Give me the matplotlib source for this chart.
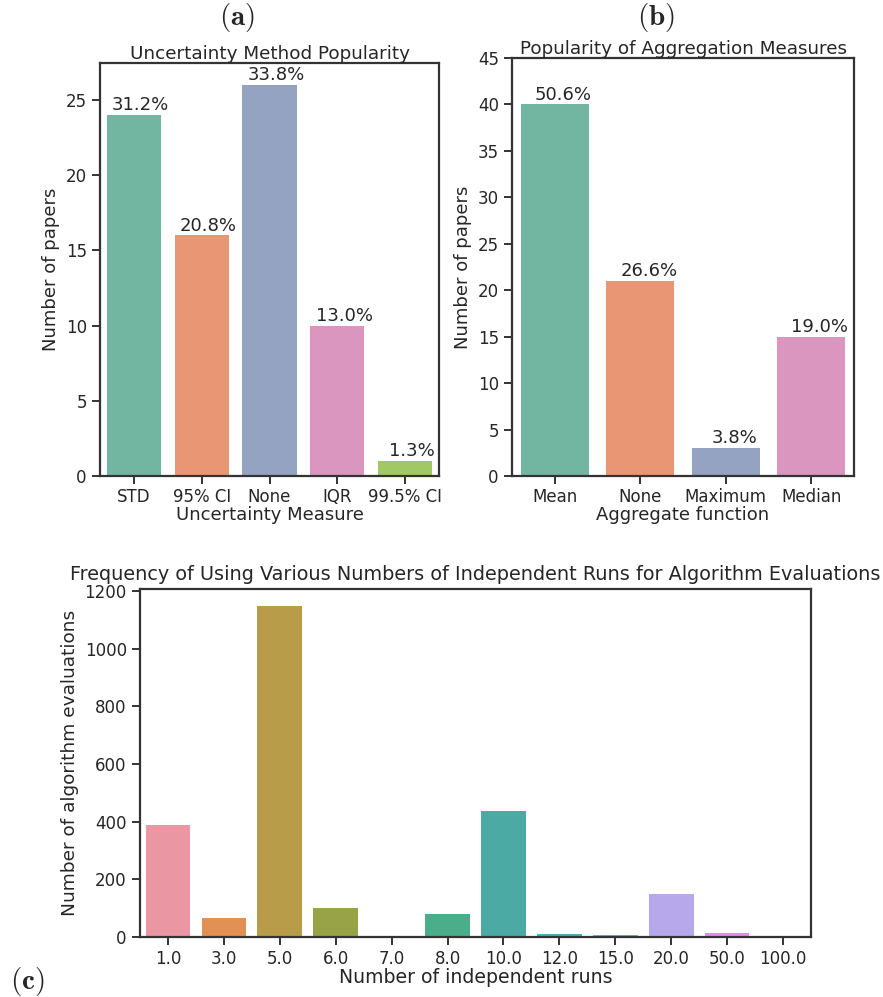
import matplotlib
matplotlib.use('Agg')
import matplotlib.pyplot as plt
import seaborn as sns
import numpy as np

#------------------------------------------------------------------------------
# Data
#------------------------------------------------------------------------------
unc_labels = ['STD', '95% CI', 'None', 'IQR', '99.5% CI']
unc_counts = [24, 16, 26, 10, 1]
unc_pct = ['31.2%', '20.8%', '33.8%', '13.0%', '1.3%']

agg_labels = ['Mean', 'None', 'Maximum', 'Median']
agg_counts = [40, 21, 3, 15]
agg_pct = ['50.6%', '26.6%', '3.8%', '19.0%']

runs_labels = ['1.0', '3.0', '5.0', '6.0', '7.0', '8.0', '10.0', '12.0',
               '15.0', '20.0', '50.0', '100.0']
runs_counts = [390, 67, 1150, 100, 1, 80, 437, 10, 7, 150, 14, 1]

#------------------------------------------------------------------------------
# Style
#------------------------------------------------------------------------------
sns.set_theme(style='ticks', context='notebook')
plt.rcParams['font.family'] = ['DejaVu Sans']
plt.rcParams['mathtext.fontset'] = 'cm'
plt.rcParams['axes.linewidth'] = 1.6
plt.rcParams['axes.edgecolor'] = '.2'

W, H = 883, 997
fig = plt.figure(figsize=(W / 100, H / 100), dpi=100)


def px_axes(l, r, t, b):
    return fig.add_axes([l / W, 1 - b / H, (r - l) / W, (b - t) / H])


def bars(ax, labels, counts, colors):
    x = np.arange(len(labels))
    ax.bar(x, counts, width=0.8, color=colors, linewidth=0)
    ax.set_xticks(x)
    ax.set_xticklabels(labels)
    ax.set_xlim(-0.5, len(labels) - 0.5)
    ax.tick_params(axis='both', length=6, width=1.4, labelsize=12, color='.2')
    ax.tick_params(axis='x', pad=3)
    for s in ax.spines.values():
        s.set_visible(True)
    return x


set2 = [sns.desaturate(c, 0.75) for c in sns.color_palette('Set2', 5)]
husl = [sns.desaturate(c, 0.75) for c in sns.husl_palette(12, l=.7)]

# (a)
ax1 = px_axes(100, 439, 63, 476)
x = bars(ax1, unc_labels, unc_counts, set2)
for i in range(len(x)):
    ax1.annotate(unc_pct[i], (x[i] + 0.1, unc_counts[i]), xytext=(0, 0.5),
                 textcoords='offset points', ha='center', va='bottom', fontsize=13)
ax1.set_ylim(0, 27.45)
ax1.set_yticks([0, 5, 10, 15, 20, 25])
ax1.set_title('Uncertainty Method Popularity', fontsize=13.2, pad=2)
ax1.set_xlabel('Uncertainty Measure', fontsize=13, labelpad=0)
ax1.set_ylabel('Number of papers', fontsize=13)

# (b)
ax2 = px_axes(512, 854, 58, 476)
x = bars(ax2, agg_labels, agg_counts, set2[:4])
for i in range(len(x)):
    ax2.annotate(agg_pct[i], (x[i] + 0.1, agg_counts[i]), xytext=(0, 0.5),
                 textcoords='offset points', ha='center', va='bottom', fontsize=13)
ax2.set_ylim(0, 45)
ax2.set_yticks(range(0, 46, 5))
ax2.set_title('Popularity of Aggregation Measures', fontsize=13.2, pad=2)
ax2.set_xlabel('Aggregate function', fontsize=13, labelpad=0)
ax2.set_ylabel('Number of papers', fontsize=13)

# (c)
ax3 = px_axes(140, 811, 589, 937)
x = bars(ax3, runs_labels, runs_counts, husl)
ax3.set_ylim(0, 1207.5)
ax3.set_yticks(range(0, 1201, 200))
ax3.set_title('Frequency of Using Various Numbers of Independent Runs for Algorithm Evaluations',
              fontsize=13.9, pad=6.5)
ax3.set_xlabel('Number of independent runs', fontsize=13.6, labelpad=0)
ax3.set_ylabel('Number of algorithm evaluations', fontsize=13.3)

# panel labels
fig.text(237 / W, 1 - 18 / H, r'$\mathbf{(a)}$', ha='center', va='center', fontsize=21)
fig.text(656 / W, 1 - 17 / H, r'$\mathbf{(b)}$', ha='center', va='center', fontsize=21)
fig.text(27 / W, 1 - 981 / H, r'$\mathbf{(c)}$', ha='center', va='center', fontsize=21)

fig.savefig('out.png', dpi=100)
